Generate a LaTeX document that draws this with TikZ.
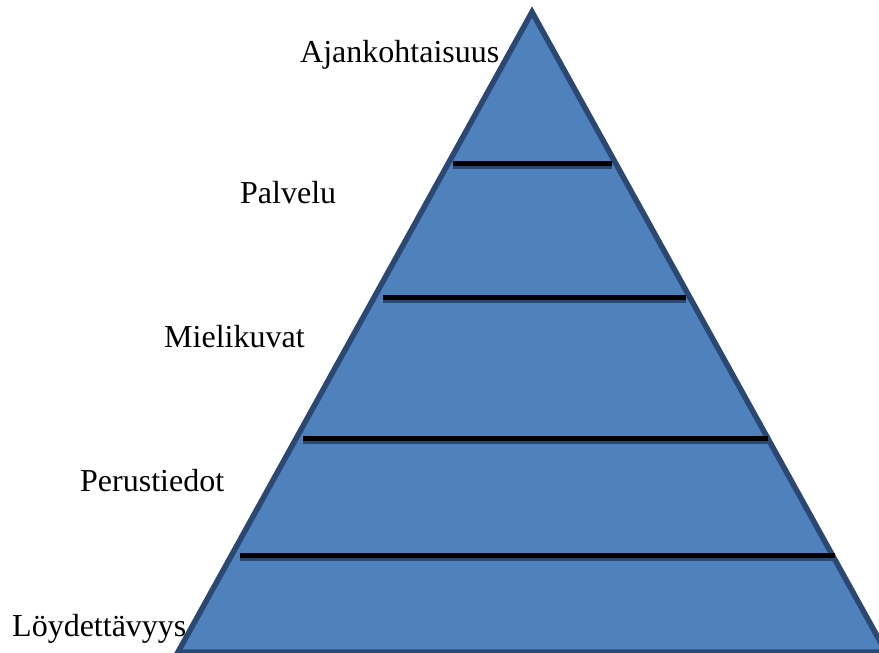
\documentclass[tikz,border=0pt]{standalone}
\usepackage{fontspec}
\setmainfont{Liberation Serif}
\definecolor{pyrfill}{HTML}{4F81BD}
\definecolor{pyredge}{HTML}{2A4872}
\begin{document}
\begin{tikzpicture}[x=1pt,y=-1pt,
  lbl/.style={anchor=base west,inner sep=0pt,font=\fontsize{32}{36}\selectfont},
  divider/.style={line width=5pt,black},
  dshadow/.style={line width=5pt,pyredge}]
\useasboundingbox (0,0) rectangle (879,653);
\clip (0,0) rectangle (879,653);
\coordinate (apex) at (532,12);
\coordinate (bl) at (178,652);
\coordinate (br) at (886,652);
\filldraw[fill=pyrfill,draw=pyredge,line width=5.5pt,line join=miter] (apex) -- (br) -- (bl) -- cycle;
% dividers
\coordinate (a1) at (453,163); \coordinate (b1) at (612,163);
\coordinate (a2) at (383,297); \coordinate (b2) at (686,297);
\coordinate (a3) at (303,438); \coordinate (b3) at (768,438);
\coordinate (a4) at (240,555); \coordinate (b4) at (835,555);
\foreach \i in {1,2,3,4}{
  \draw[dshadow] ([yshift=-3.5pt]a\i) -- ([yshift=-3.5pt]b\i);
  \draw[divider] (a\i) -- (b\i);
}
\node[lbl] (t1) at (300,62) {Ajankohtaisuus};
\node[lbl] (t2) at (240,203) {Palvelu};
\node[lbl] (t3) at (164,347) {Mielikuvat};
\node[lbl] (t4) at (80,491) {Perustiedot};
\node[lbl] (t5) at (12,636) {Löydettävyys};
\end{tikzpicture}
\end{document}
